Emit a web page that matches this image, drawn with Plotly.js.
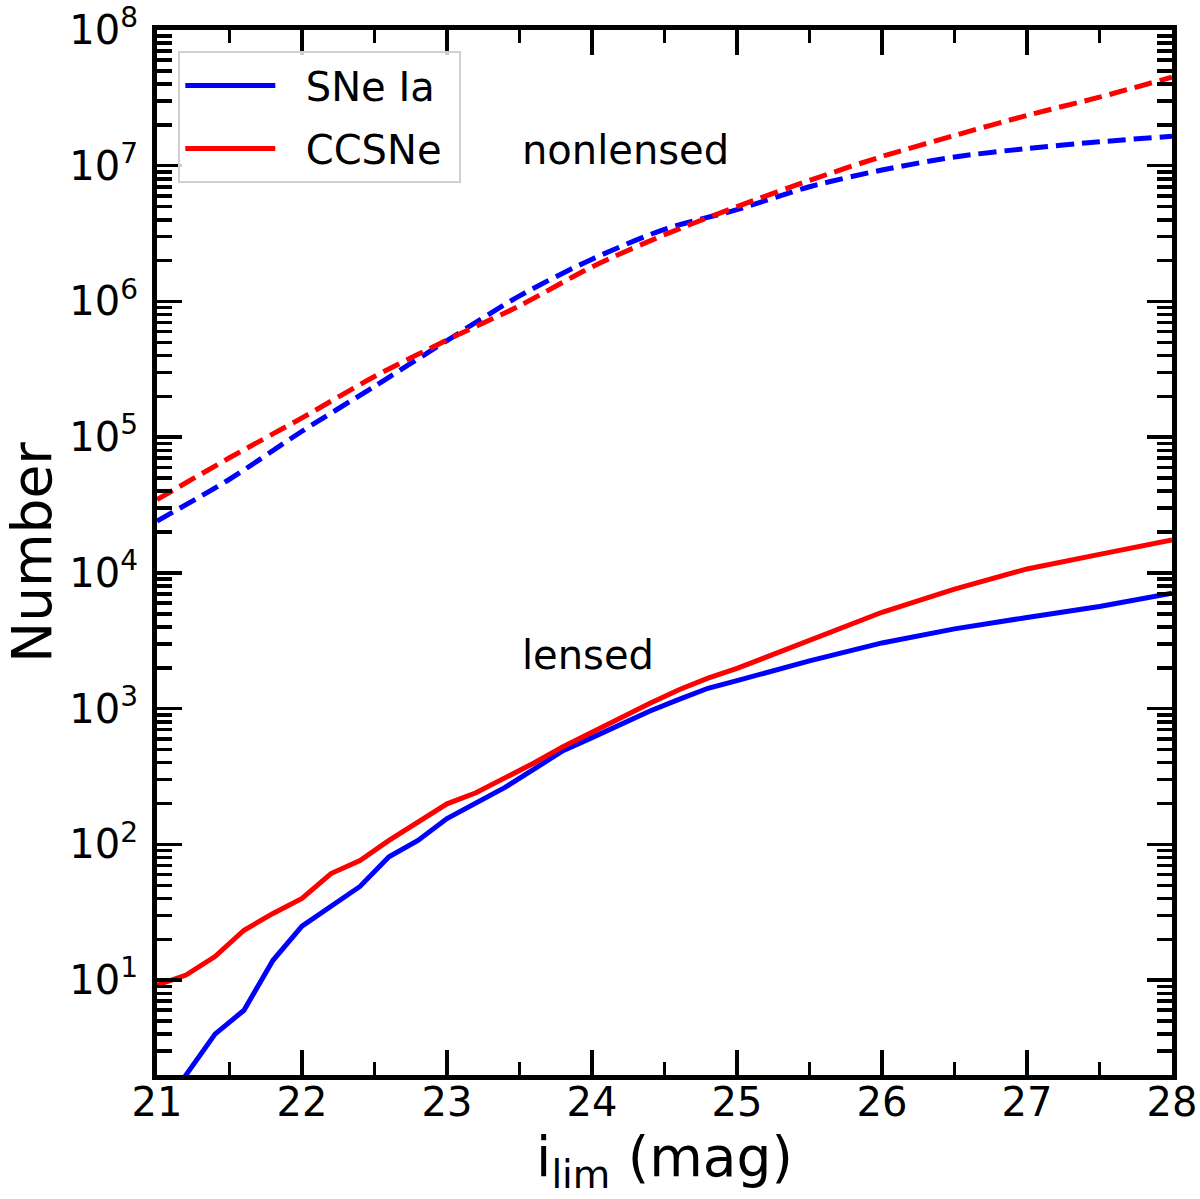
<!DOCTYPE html>
<html>
<head>
<meta charset="utf-8">
<script src="https://cdn.plot.ly/plotly-3.0.1.min.js"></script>
<style>
  html, body { margin: 0; padding: 0; background: #fff; }
  #chart { width: 1200px; height: 1199px; }
</style>
</head>
<body>
<div id="chart"></div>
<script>
// Limiting magnitude grids (mag)
const magLensed = [21.0, 21.2, 21.4, 21.6, 21.8, 22.0, 22.2, 22.4, 22.6, 22.8, 23.0,
  23.2, 23.4, 23.6, 23.8, 24.0, 24.2, 24.4, 24.6, 24.8, 25.0,
  25.5, 26.0, 26.5, 27.0, 27.5, 28.0];
const magNonlensed = [21.0, 21.5, 22.0, 22.5, 23.0, 23.5, 24.0, 24.5, 25.0, 25.5, 26.0, 26.5, 27.0, 27.5, 28.0];

// Lensed counts
const snIaLensed = [1, 2.0, 4.0, 6.0, 14, 25, 35, 49, 81, 107, 155,
  200, 263, 359, 490, 612, 767, 962, 1172, 1413, 1610,
  2250, 3050, 3870, 4700, 5660, 7100];
const ccLensed = [9.2, 10.9, 14.9, 23.3, 31, 40, 61, 76, 107, 146, 199,
  240, 309, 398, 525, 676, 851, 1096, 1380, 1680, 1980,
  3160, 5130, 7590, 10700, 13700, 17500];

// Nonlensed counts
const snIaNonlensed = [24100, 49000, 110600, 237000, 515000, 1100000, 2050000, 3400000,
  4750000, 7000000, 9300000, 11600000, 13400000, 15000000, 16500000];
const ccNonlensed = [34700, 70500, 138700, 280000, 520000, 930000, 1800000, 3100000,
  5000000, 7800000, 11700000, 16700000, 23500000, 32000000, 45000000];

const yTickVals = [10, 100, 1e3, 1e4, 1e5, 1e6, 1e7, 1e8];
const yTickText = ["10<sup>1</sup>", "10<sup>2</sup>", "10<sup>3</sup>", "10<sup>4</sup>",
  "10<sup>5</sup>", "10<sup>6</sup>", "10<sup>7</sup>", "10<sup>8</sup>"];

const BLUE = "#0000ff";
const RED = "#ff0000";
const LW = 5;
const DASH = "18px,8px";
const SP = "\u00a0\u00a0";

const traces = [
  { x: magLensed, y: snIaLensed, name: SP + "SNe Ia", legendgroup: "ia", mode: "lines",
    line: { color: BLUE, width: LW } },
  { x: magLensed, y: ccLensed, name: SP + "CCSNe" + "\u00a0", legendgroup: "cc", mode: "lines",
    line: { color: RED, width: LW } },
  { x: magNonlensed, y: snIaNonlensed, mode: "lines", showlegend: false,
    line: { color: BLUE, width: LW, dash: DASH, shape: "spline", smoothing: 0.8 } },
  { x: magNonlensed, y: ccNonlensed, mode: "lines", showlegend: false,
    line: { color: RED, width: LW, dash: DASH, shape: "spline", smoothing: 0.8 } },
];

const axisCommon = {
  showline: true, linecolor: "#000", linewidth: 5, mirror: "allticks",
  ticks: "inside", tickcolor: "#000", tickwidth: 3.5, ticklen: 25,
  showgrid: false, zeroline: false,
  tickfont: { size: 40, color: "#000" },
};

const layout = {
  width: 1200, height: 1199,
  font: { family: "DejaVu Sans, sans-serif", color: "#000" },
  paper_bgcolor: "#fff", plot_bgcolor: "#fff",
  margin: { l: 157, r: 28, t: 30, b: 124 },
  showlegend: true,
  legend: {
    x: 0.021, y: 0.98, xanchor: "left", yanchor: "top",
    bgcolor: "rgba(255,255,255,0.8)", bordercolor: "#d0d0d0", borderwidth: 2,
    font: { size: 40, color: "#000" }, itemwidth: 90,
    traceorder: "grouped", tracegroupgap: 8,
  },
  xaxis: {
    ...axisCommon,
    range: [21, 28], dtick: 1, tick0: 21,
    ticklabelstandoff: -12,
    minor: { ticks: "inside", dtick: 0.5, ticklen: 13, tickwidth: 3.5, tickcolor: "#000", showgrid: false },
    title: { text: "i<sub>lim</sub> (mag)", font: { size: 55, color: "#000" }, standoff: 14 },
  },
  yaxis: {
    ...axisCommon,
    type: "log", range: [Math.log10(2), 8],
    tickmode: "array", tickvals: yTickVals, ticktext: yTickText,
    ticklabelstandoff: 6,
    minor: { ticks: "inside", dtick: "D1", ticklen: 15, tickwidth: 3.5, tickcolor: "#000", showgrid: false },
    title: { text: "Number", font: { size: 55, color: "#000" }, standoff: 14 },
  },
  annotations: [
    { x: 23.5, y: Math.log10(1.3e7), xref: "x", yref: "y", text: "nonlensed", showarrow: false,
      xanchor: "left", yanchor: "middle", font: { size: 40, color: "#000" } },
    { x: 23.5, y: Math.log10(2500), xref: "x", yref: "y", text: "lensed", showarrow: false,
      xanchor: "left", yanchor: "middle", font: { size: 40, color: "#000" } },
  ],
};

Plotly.newPlot("chart", traces, layout, { displayModeBar: false, staticPlot: true });
</script>
</body>
</html>
